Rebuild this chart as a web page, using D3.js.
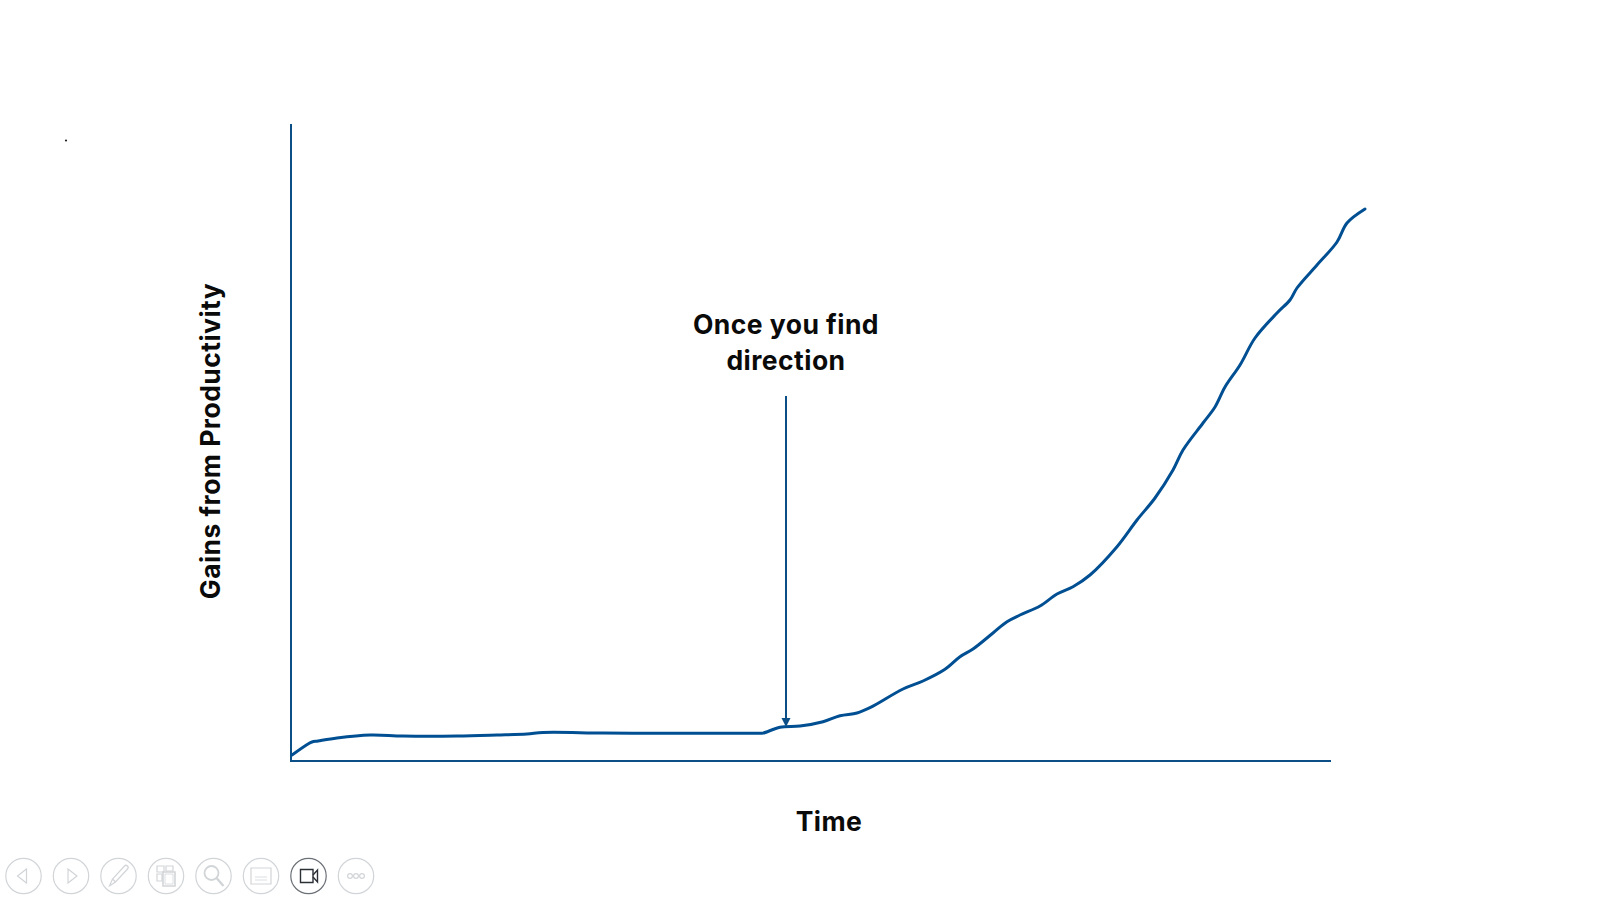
<!DOCTYPE html>
<html><head><meta charset="utf-8">
<script src="https://cdnjs.cloudflare.com/ajax/libs/d3/7.8.5/d3.min.js"></script>
<style>html,body{margin:0;background:#fff}svg{display:block}text{font-family:Inter,sans-serif;font-weight:700;fill:#0a0a0a;letter-spacing:.45px}</style>
</head><body><svg id="c" width="1600" height="900"></svg>
<script>
const timeValues=[1,17,21,27,46,79,112,166,206,236,252,312,379,432,468,472,489,509,532,549,566,579,612,632,654,669,682,702,716,729,749,766,782,799,826,846,864,882,892,912,924,934,949,964,986,999,1006,1026,1046,1056,1074];
const gainValues=[6,17,19,20,23,26,25,25,26,27,28.5,28,27.7,27.7,27.7,27.9,33.7,35,39.3,45.3,48,53.3,72,80,91.7,104.3,112,128,139.3,146,155,167,174.3,186,214.3,241,263,291,311,338,354,374,396,423,448,461,473,496,519,538,552];
const annotationTime=495, annotationFrom=365, annotationTo=34;
const xLabel="Time", yLabel="Gains from Productivity", noteLines=["Once you find","direction"];
const toolbarSlots=[0,1,2,3,4,5,6,7];

const svg=d3.select("#c");
const x=d3.scaleLinear().domain([0,1040]).range([291,1331]);
const y=d3.scaleLinear().domain([0,637]).range([761,124]);
const blue="#0b4f86", lineBlue="#004f92";

svg.append("path").attr("d",`M${x(0)},${y(637)}V${y(0)}H${x(1040)}`).attr("fill","none").attr("stroke",blue).attr("stroke-width",2);
svg.append("path").datum(timeValues.map((t,i)=>[t,gainValues[i]]))
  .attr("d",d3.line().x(d=>x(d[0])).y(d=>y(d[1])).curve(d3.curveCatmullRom.alpha(.5)))
  .attr("fill","none").attr("stroke",lineBlue).attr("stroke-width",3).attr("stroke-linecap","round");

const ax=x(annotationTime);
svg.append("line").attr("x1",ax).attr("x2",ax).attr("y1",y(annotationFrom)).attr("y2",y(annotationTo)-8).attr("stroke",blue).attr("stroke-width",2);
svg.append("path").attr("d",`M${ax-4.5},${y(annotationTo)-9}H${ax+4.5}L${ax},${y(annotationTo)}Z`).attr("fill",blue);

svg.selectAll("text.note").data(noteLines).join("text").attr("class","note")
  .attr("x",ax).attr("y",(d,i)=>334+i*36).attr("text-anchor","middle").attr("font-size",26.5).text(d=>d);
svg.append("text").attr("x",829).attr("y",831).attr("text-anchor","middle").attr("font-size",26.5).text(xLabel);
svg.append("text").attr("transform","translate(220,441) rotate(-90)").attr("text-anchor","middle").attr("font-size",26.5).text(yLabel);
svg.append("circle").attr("cx",66).attr("cy",140.5).attr("r",1.1).attr("fill","#222");

// presentation toolbar
const tx=d3.scaleLinear().domain([0,7]).range([23.5,356]);
const g=svg.append("g").attr("fill","none").attr("stroke","#d2d5d8").attr("stroke-width",1.2);
toolbarSlots.forEach(i=>{
  const c=g.append("g").attr("transform",`translate(${tx(i)},876)`);
  c.append("circle").attr("r",17.7).attr("fill","#fff").attr("stroke",i==6?"#6b7077":"#d2d5d8");
  if(i==0)c.append("path").attr("d","M3,-7V7L-6,0Z");
  if(i==1)c.append("path").attr("d","M-3,-7V7L6,0Z");
  if(i==2){c.append("path").attr("d","M-9,10L-6,3L6,-10C8,-12 11,-9 9,-7L-3,6Z");c.append("path").attr("d","M-6,3L-3,6");}
  if(i==3){c.append("path").attr("d","M-9,-10H-2V-4H-9ZM0,-10H7V-5H0ZM-9,-2H-4V5H-9Z");c.append("path").attr("d","M-3,-4H9V10H-3Z").attr("stroke-width",1.6);c.append("path").attr("d","M-1,-2H7V8H-1Z").attr("stroke-width",.8);}
  if(i==4){c.append("circle").attr("cx",-2).attr("cy",-3).attr("r",7).attr("stroke-width",1.8);c.append("path").attr("d","M3,2L10,10").attr("stroke-width",2.4);}
  if(i==5){c.append("path").attr("d","M-10,-8H10V8H-10Z");c.append("path").attr("d","M-6,1H6M-6,4H6").attr("stroke-width",.8);}
  if(i==6){c.append("path").attr("d","M-8,-6.5H4.5V6.5H-8Z").attr("stroke","#2c3036").attr("stroke-width",1.4);c.append("path").attr("d","M4.5,-1L9,-6V6L4.5,1").attr("stroke","#2c3036").attr("stroke-width",1.4);}
  if(i==7)[-6,0,6].forEach(d=>c.append("circle").attr("cx",d).attr("r",2.4));
});
</script></body></html>
